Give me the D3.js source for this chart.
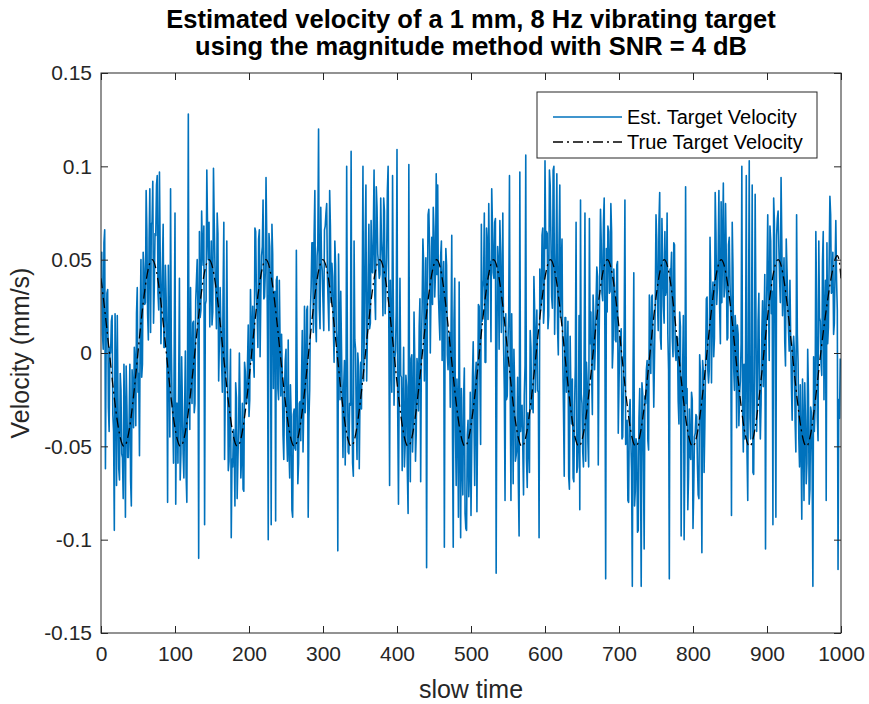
<!DOCTYPE html>
<html><head><meta charset="utf-8">
<script src="https://cdn.jsdelivr.net/npm/d3@7/dist/d3.min.js"></script>
<style>
body{margin:0;background:#fff}
text{font-family:"Liberation Sans",Arial,Helvetica,sans-serif;fill:#262626}
</style>
</head><body>
<svg id="chart" width="869" height="704"></svg>
<script>
// ---------- data ----------
const titleLines = ["Estimated velocity of a 1 mm, 8 Hz vibrating target",
                    "using the magnitude method with SNR = 4 dB"];
const xLabel = "slow time";
const yLabel = "Velocity (mm/s)";
const xTicks = [0,100,200,300,400,500,600,700,800,900,1000];
const yTicks = [-0.15,-0.1,-0.05,0,0.05,0.1,0.15];
const yTickLabels = ["-0.15","-0.1","-0.05","0","0.05","0.1","0.15"];
const legendLabels = ["Est. Target Velocity","True Target Velocity"];

// estimated velocity, thousandths of mm/s, even slow-time samples (0,2,4,...)
const estVelocityEvenMilli = [
52,10,59,-62,32,-29,3,17,-33,-95,-10,20,-62,-11,-54,-78,-34,-7,-56,-37,-68,-9,-40,-5,21,-21,-55,50,-6,45,27,66,7,88,69,
92,35,63,95,23,53,26,69,3,30,-80,3,88,-25,-59,75,-27,-59,40,-54,-28,-67,1,-80,128,-41,-7,16,-32,28,50,-110,19,76,47,-92,28,67,
70,39,15,99,47,13,64,7,14,-21,70,-17,60,-63,-22,-99,-61,-50,-16,-78,-40,-28,-55,-73,-5,-27,-5,-34,34,-4,-4,67,33,3,66,31,57,29,
43,62,-100,57,-92,53,32,-90,41,-25,7,10,-44,-20,2,-58,-51,-17,-84,-33,-51,55,-70,-27,-47,12,-30,-32,23,-88,-20,36,59,63,16,52,120,13,49,
27,66,75,41,12,68,48,13,60,12,-106,16,33,-26,-18,-60,100,-53,-27,108,-59,60,2,-57,-7,-24,-30,100,16,90,9,69,16,44,64,31,89,53,
40,83,51,83,21,51,100,-71,1,95,-28,1,109,-81,40,-13,-29,-61,-12,-64,101,-69,-1,-38,-4,-43,-9,14,-69,26,48,18,-115,74,57,35,26,65,43,
42,31,7,60,39,-104,56,-1,6,-29,63,-104,40,-71,-30,38,-99,-58,-24,-86,-95,-36,-63,-87,-13,-35,-13,-85,26,-12,69,35,75,-5,58,80,49,88,
43,70,-118,57,2,53,32,5,-79,-25,7,95,-79,-20,2,-58,-51,-70,97,-33,-51,-23,106,-72,-47,12,-30,-32,23,8,-20,-99,23,63,16,103,65,13,98,
62,24,100,36,96,-1,90,48,-2,-66,19,-3,-66,9,-38,-67,-28,70,-61,20,82,-27,-61,75,-5,-48,72,22,-33,19,3,46,-60,41,59,28,83,-121,
22,65,33,65,3,33,6,49,-17,10,-46,-17,82,-45,-79,-31,-47,-125,43,-74,-48,-95,-19,-125,-22,-105,-27,-4,-52,8,30,0,-1,74,27,70,8,72,25,
65,34,10,-121,42,8,59,2,9,-26,22,-98,-8,-100,89,-19,-66,-55,-21,-94,-45,-33,-60,-78,-10,-107,-10,-39,29,-9,-9,38,28,-2,86,26,52,24,
81,60,30,80,7,58,37,-87,46,-20,12,15,-39,-15,100,-53,-46,95,-79,103,-46,90,-65,85,-42,17,-25,-27,28,13,-105,41,28,68,21,-92,70,-88,
72,57,27,60,35,6,61,30,1,8,-36,9,-37,74,-5,-61,-49,-14,-79,-36,-59,-22,-73,-32,-125,-42,65,-35,60,17,-12,65,20,-79,5,49,74,34,10,
45,39,-116,-35
];
// estimated velocity, thousandths of mm/s, odd slow-time samples (1,3,5,...)
const estVelocityOddMilli = [
54,2,66,8,34,-42,0,20,-42,21,-71,-28,-68,-20,-56,-6,-88,-28,-56,-6,-82,-18,3,-39,35,-11,17,-13,54,26,87,21,61,11,70,
16,64,90,32,97,5,47,3,47,5,47,-45,5,-34,6,-81,-27,-16,-68,-2,-54,-31,-65,0,-28,35,-27,17,-27,39,23,65,23,57,68,26,98,50,
14,60,22,70,31,75,-15,35,-5,33,-57,-7,-1,-58,2,-57,-41,-82,-24,-58,0,-67,-27,-74,-10,-27,15,-25,11,25,-13,65,21,61,-2,52,82,30,
94,8,64,28,69,-19,33,39,-19,39,-23,-11,-57,-4,-44,7,-67,-34,-88,-30,-52,-15,-59,-26,-14,-53,25,-17,25,-35,23,59,11,87,6,58,24,78,44,
12,68,80,26,87,27,41,-5,47,5,53,-25,3,-56,-4,-33,-3,-54,-28,-22,-66,7,-39,0,-62,-5,31,-15,63,-15,41,13,71,43,98,18,78,48,
42,60,20,76,37,87,11,39,-21,29,-3,23,-33,-12,-12,-63,3,-50,-18,-86,-34,-3,-53,22,-58,-3,-31,29,3,61,-15,51,25,77,0,62,78,30,96,
90,18,52,-4,49,19,47,-9,11,9,-45,17,-41,-14,-88,-43,-19,-76,-8,-94,-44,-77,-21,-50,6,-71,-5,-29,25,-49,17,39,-5,67,18,42,6,68,
40,72,2,48,71,11,75,-19,21,-23,21,-21,21,-70,-18,-55,-13,-98,-42,-28,-76,-7,-57,-32,-64,3,-23,41,-21,23,-21,45,27,67,24,56,64,20,90,
30,98,10,54,13,59,19,61,-31,19,-21,17,-73,-22,-14,-69,-7,-64,-46,-84,-22,-53,7,-58,-16,-61,5,-11,31,-9,27,41,1,77,32,70,4,56,
68,32,80,-8,45,7,47,-43,7,13,-45,13,-49,-36,-80,-25,-63,-10,-82,-46,-96,-35,-55,-16,-58,-23,-9,-47,31,-11,31,-29,27,61,12,86,2,52,16,
31,75,-9,45,54,-2,58,-4,8,-38,14,-28,20,-57,-27,-84,-30,-57,-25,-73,-43,-34,-76,-1,-45,-4,-64,-6,30,-16,62,-16,38,8,65,35,87,5,
27,91,35,51,8,62,22,70,-8,20,-40,10,-22,5,-29,-6,-4,-53,15,-35,1,-64,-10,23,-25,32,-46,10,-18,42,16,74,-4,60,33,83,3,63,
76,40,94,20,51,-7,45,13,39,-17,3,1,-53,10,-46,-17,-89,-42,-16,-70,2,-81,-29,-60,-2,-29,29,-47,19,-5,49,-25,39,59,14,84,32,54,16,
71,23,-25,-3
];

// true velocity read at its zero crossings, peaks and troughs
const trueTime = [0,11.4,30.6,49.9,69.1,88.3,107.5,126.7,146.0,165.2,184.4,203.6,222.9,242.1,261.3,280.5,299.8,319.0,338.2,357.4,376.7,395.9,415.1,434.3,453.6,472.8,492.0,511.2,530.5,549.7,568.9,588.1,607.4,626.6,645.8,665.0,684.3,703.5,722.7,741.9,761.2,780.4,799.6,818.8,838.1,857.3,876.5,895.7,915.0,934.2,953.4,972.6,991.9,1000];
const trueVelocity = [0.040,0,-0.05,0,0.05,0,-0.05,0,0.05,0,-0.05,0,0.05,0,-0.05,0,0.05,0,-0.05,0,0.05,0,-0.05,0,0.05,0,-0.05,0,0.05,0,-0.05,0,0.05,0,-0.05,0,0.05,0,-0.05,0,0.05,0,-0.05,0,0.05,0,-0.05,0,0.05,0,-0.05,0,0.05,0.040];

// ---------- layout ----------
const W = 869, H = 704;
const plot = {left:101, right:841, top:73, bottom:633};
const axisColor = "#262626";
const estColor = "#0072BD";
const tickFont = 21;
const dashDot = "10,4,2,4";

const svg = d3.select("#chart");
const xScale = d3.scaleLinear().domain([0,1000]).range([plot.left, plot.right]);
const yScale = d3.scaleLinear().domain([-0.15,0.15]).range([plot.bottom, plot.top]);

svg.append("rect").attr("width",W).attr("height",H).attr("fill","#fff");

svg.append("clipPath").attr("id","clip").append("rect")
  .attr("x",plot.left).attr("y",plot.top)
  .attr("width",plot.right-plot.left).attr("height",plot.bottom-plot.top);
const gPlot = svg.append("g").attr("clip-path","url(#clip)");

// merge even / odd samples into one series
const estSeries = [];
estVelocityEvenMilli.forEach((v,i)=>{
  estSeries.push({t:2*i, v:v/1000});
  if (i < estVelocityOddMilli.length) estSeries.push({t:2*i+1, v:estVelocityOddMilli[i]/1000});
});

const estLine = d3.line().x(d=>xScale(d.t)).y(d=>yScale(d.v));
gPlot.append("path").datum(estSeries)
  .attr("d",estLine).attr("fill","none")
  .attr("stroke",estColor).attr("stroke-width",1.6).attr("stroke-linejoin","round");

const trueData = trueTime.map((t,i)=>[t,trueVelocity[i]]);
const trueLine = d3.line().x(d=>xScale(d[0])).y(d=>yScale(d[1])).curve(d3.curveNatural);
gPlot.append("path").datum(trueData)
  .attr("d",trueLine).attr("fill","none")
  .attr("stroke","#000").attr("stroke-width",1.3)
  .attr("stroke-dasharray",dashDot);

// axes
const axG = svg.append("g");
axG.append("g").attr("transform",`translate(0,${plot.bottom})`)
  .call(d3.axisBottom(xScale).tickValues(xTicks).tickSize(-7).tickPadding(13).tickFormat(d3.format("d")));
axG.append("g").attr("transform",`translate(0,${plot.top})`)
  .call(d3.axisTop(xScale).tickValues(xTicks).tickSize(-7).tickFormat(""));
axG.append("g").attr("transform",`translate(${plot.left},0)`)
  .call(d3.axisLeft(yScale).tickValues(yTicks).tickSize(-7).tickPadding(9).tickFormat((d,i)=>yTickLabels[i]));
axG.append("g").attr("transform",`translate(${plot.right},0)`)
  .call(d3.axisRight(yScale).tickValues(yTicks).tickSize(-7).tickFormat(""));
axG.selectAll("g").attr("font-size",tickFont).attr("font-family","Liberation Sans, Arial, sans-serif");
axG.selectAll(".domain").remove();
axG.selectAll(".tick line").attr("stroke",axisColor);
axG.selectAll(".tick text").attr("fill",axisColor);

svg.append("rect").attr("x",plot.left).attr("y",plot.top)
  .attr("width",plot.right-plot.left).attr("height",plot.bottom-plot.top)
  .attr("fill","none").attr("stroke",axisColor).attr("stroke-width",1);

// labels
svg.append("text").attr("x",(plot.left+plot.right)/2).attr("y",698)
  .attr("text-anchor","middle").attr("font-size",25).text(xLabel);
svg.append("text").attr("transform",`translate(29,${(plot.top+plot.bottom)/2}) rotate(-90)`)
  .attr("text-anchor","middle").attr("font-size",25).text(yLabel);

const title = svg.append("text").attr("text-anchor","middle").attr("font-size",25.5).attr("font-weight","bold").style("fill","#000");
titleLines.forEach((t,i)=>{
  title.append("tspan").attr("x",(plot.left+plot.right)/2).attr("y",28+i*27).text(t);
});

// legend
const lg = svg.append("g");
lg.append("rect").attr("x",537).attr("y",92).attr("width",280).attr("height",66)
  .attr("fill","#fff").attr("stroke",axisColor).attr("stroke-width",1);
const rows = [{label:legendLabels[0],color:estColor,dash:null},{label:legendLabels[1],color:"#000",dash:dashDot}];
rows.forEach((r,i)=>{
  const cy = 117 + i*25;
  const ln = lg.append("line").attr("x1",553).attr("x2",622).attr("y1",cy).attr("y2",cy)
    .attr("stroke",r.color).attr("stroke-width",1.4);
  if (r.dash) ln.attr("stroke-dasharray",r.dash);
  lg.append("text").attr("x",627).attr("y",cy).attr("dy","0.35em")
    .attr("font-size",20).style("fill","#000").text(r.label);
});
</script>
</body></html>
